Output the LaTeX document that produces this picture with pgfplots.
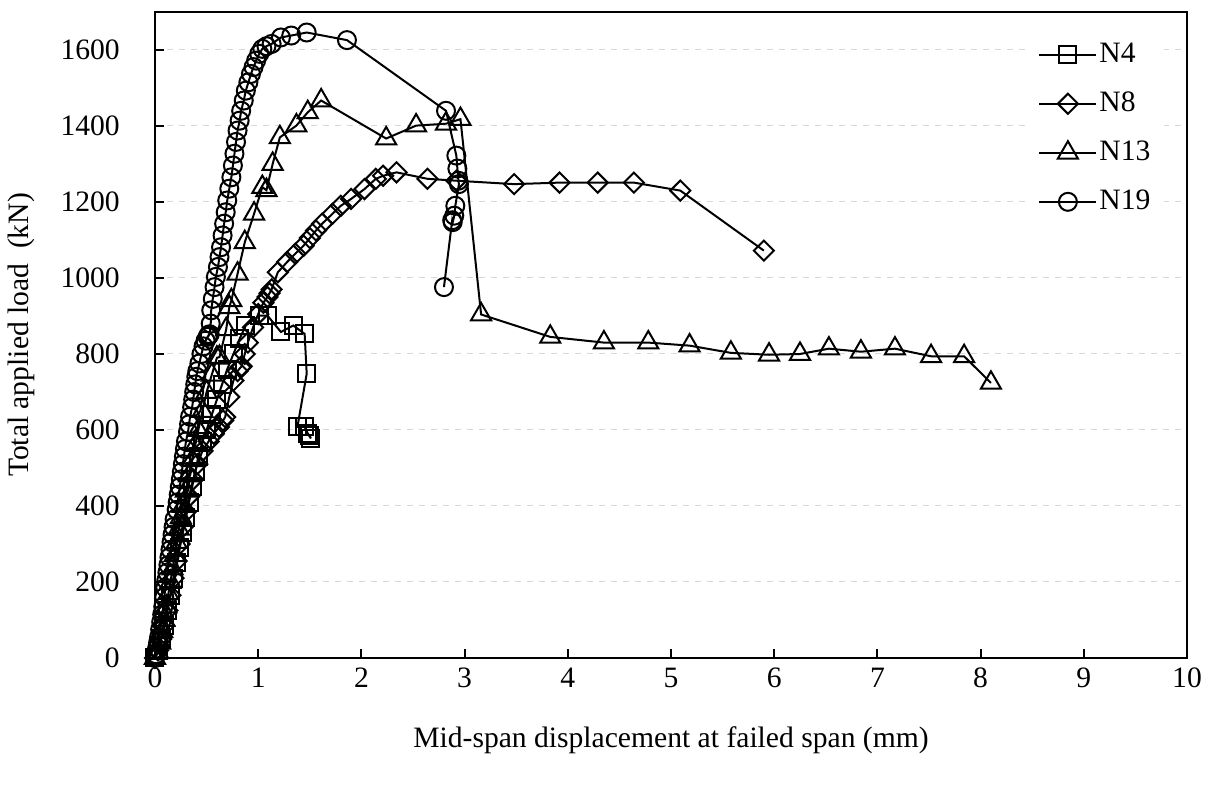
\documentclass[border=0pt]{standalone}
\usepackage{fontspec}
\setmainfont{Liberation Serif}
\usepackage{pgfplots}
\usepackage{pgfplotstable}
\pgfplotsset{compat=1.18}

\pgfplotstableread{
x y
0 0
0.03 20
0.06 50
0.09 85
0.12 125
0.15 165
0.18 210
0.21 250
0.24 290
0.27 330
0.30 370
0.33 410
0.36 450
0.39 490
0.42 530
0.46 570
0.50 600
0.55 640
0.60 680
0.65 720
0.70 760
0.76 800
0.82 840
0.88 875
1.01 901
1.09 901
1.22 858
1.34 875
1.45 853
1.47 748
1.38 608
1.45 608
1.48 591
1.51 578
1.50 585
}\NFour

\pgfplotstableread{
x y
0 0
0.03 20
0.06 50
0.09 85
0.12 125
0.15 165
0.18 210
0.21 255
0.24 300
0.27 345
0.30 385
0.33 425
0.37 470
0.41 510
0.46 545
0.52 570
0.57 590
0.62 608
0.66 625
0.68 634
0.72 687
0.76 730
0.80 755
0.83 765
0.84 768
0.87 800
0.90 830
0.95 870
1.00 905
1.05 935
1.09 950
1.11 960
1.13 970
1.19 1015
1.28 1042
1.36 1064
1.44 1085
1.50 1105
1.56 1125
1.62 1143
1.72 1169
1.80 1190
1.90 1208
2.03 1234
2.14 1261
2.21 1269
2.34 1278
2.64 1261
2.92 1256
3.48 1247
3.92 1251
4.29 1251
4.64 1251
5.09 1230
5.90 1072
}\NEight

\pgfplotstableread{
x y
0 0
0.03 15
0.05 40
0.07 70
0.09 100
0.11 135
0.13 170
0.15 200
0.17 235
0.19 270
0.21 305
0.23 340
0.25 370
0.27 400
0.30 440
0.33 480
0.36 520
0.39 560
0.42 600
0.46 650
0.50 700
0.55 745
0.60 790
0.625 792
0.69 865
0.72 923
0.74 941
0.80 1011
0.87 1094
0.96 1169
1.04 1239
1.08 1231
1.14 1300
1.21 1370
1.37 1401
1.48 1436
1.61 1467
2.24 1367
2.53 1401
2.82 1406
2.96 1418
3.16 904
3.83 845
4.35 830
4.78 830
5.18 822
5.58 803
5.95 798
6.25 800
6.53 814
6.84 806
7.17 814
7.52 794
7.84 794
8.10 724
}\NThirteen

\pgfplotstableread{
x y
0 0
0.01 10
0.02 25
0.03 40
0.04 55
0.05 75
0.06 95
0.07 115
0.08 135
0.09 160
0.10 185
0.11 205
0.12 225
0.13 245
0.14 265
0.15 285
0.16 305
0.17 325
0.18 345
0.19 365
0.21 390
0.22 410
0.23 430
0.24 450
0.25 470
0.26 490
0.27 510
0.28 530
0.29 550
0.30 570
0.32 595
0.33 615
0.34 635
0.36 660
0.37 680
0.38 700
0.39 720
0.40 740
0.41 755
0.43 775
0.45 800
0.47 820
0.49 835
0.51 845
0.52 850
0.52 848
0.53 852
0.54 880
0.545 915
0.56 945
0.577 976
0.59 1003
0.61 1029
0.625 1055
0.64 1081
0.655 1112
0.67 1143
0.685 1173
0.70 1204
0.72 1235
0.74 1265
0.755 1296
0.77 1327
0.785 1358
0.80 1388
0.82 1414
0.835 1440
0.86 1467
0.88 1493
0.905 1515
0.93 1537
0.955 1555
0.98 1572
1.01 1590
1.04 1603
1.08 1610
1.13 1616
1.22 1633
1.32 1638
1.47 1646
1.86 1626
2.82 1440
2.92 1322
2.93 1288
2.94 1256
2.945 1247
2.91 1190
2.90 1164
2.885 1147
2.88 1152
2.80 976
}\NNineteen

\begin{document}
\fontsize{14.8}{17}\selectfont
\begin{tikzpicture}
\begin{axis}[
  name=ax,
  scale only axis,
  width=516pt, height=323pt,
  xmin=0, xmax=10, ymin=0, ymax=1700,
  xtick={0,1,...,10},
  ytick={0,200,...,1600},
  tick align=inside,
  xtick pos=bottom, ytick pos=left,
  major tick length=4.5pt,
  axis line style={line width=1pt},
  every tick/.style={black, line width=1pt},
  ymajorgrids,
  grid style={gray!30, dashed, line width=0.5pt},
  /pgf/number format/assume math mode=true,
  /pgf/number format/set thousands separator={},
  font=\fontsize{14.8}{17}\selectfont,
  yticklabel style={xshift=-12.5pt},
  xlabel={Mid-span displacement at failed span (mm)},
  ylabel={Total applied load\ \ (kN)},
  xlabel style={at={(axis description cs:0.5,-0.127)}, anchor=center},
  ylabel style={at={(axis description cs:-0.129,0.5)}, anchor=center},
  legend style={draw=none, fill=white, at={(rel axis cs:0.844,0.9706)}, anchor=north west,
    row sep=9.2pt, inner xsep=6pt, inner ysep=4pt,
    nodes={inner sep=1pt, text height=0.7em, text depth=0.2em}},
  legend cell align=left,
  legend image code/.code={\draw[mark repeat=2,mark phase=2] plot coordinates {(0pt,0pt)(14.25pt,0pt)(28.5pt,0pt)};},
  every axis plot/.append style={black, line width=1pt},
]
\addplot[mark=square, mark size=4.25pt, mark options={solid, line width=1pt}] table[x=x,y=y] {\NFour};
\addlegendentry{N4}
\addplot[mark=square, mark size=3.55pt, mark options={solid, rotate=45, line width=1pt}] table[x=x,y=y] {\NEight};
\addlegendentry{N8}
\addplot[mark=triangle, mark size=5.8pt, mark options={solid, line width=1pt}] table[x=x,y=y] {\NThirteen};
\addlegendentry{N13}
\addplot[mark=o, mark size=4.5pt, mark options={solid, line width=1pt}] table[x=x,y=y] {\NNineteen};
\addlegendentry{N19}
\end{axis}
\pgfresetboundingbox
\path ([shift={(-77.5pt,-64pt)}]ax.south west) rectangle ([shift={(11.5pt,6pt)}]ax.north east);
\end{tikzpicture}
\end{document}
